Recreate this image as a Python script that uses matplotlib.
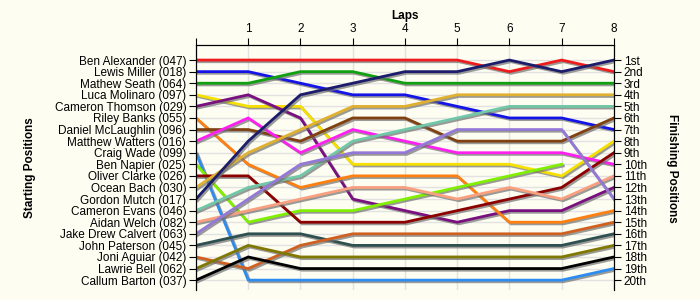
import numpy as np
import matplotlib.pyplot as plt
import matplotlib.patheffects as pe

laps = [0, 1, 2, 3, 4, 5, 6, 7, 8]

drivers = ["Ben Alexander (047)", "Lewis Miller (018)", "Mathew Seath (064)",
           "Luca Molinaro (097)", "Cameron Thomson (029)", "Riley Banks (055)",
           "Daniel McLaughlin (096)", "Matthew Watters (016)", "Craig Wade (099)",
           "Ben Napier (025)", "Oliver Clarke (026)", "Ocean Bach (030)",
           "Gordon Mutch (017)", "Cameron Evans (046)", "Aidan Welch (082)",
           "Jake Drew Calvert (063)", "John Paterson (045)", "Joni Aguiar (042)",
           "Lawrie Bell (062)", "Callum Barton (037)"]

colors = ["#ee1c1c", "#1414e6", "#10a010", "#f5e000", "#7a1080", "#ff8010",
          "#804010", "#ff20f0", "#2c8cf0", "#80f000", "#8c0000", "#e0b030",
          "#1c1c6c", "#70c8a8", "#f8a080", "#9478d8", "#2f5050", "#d06020",
          "#807800", "#000000"]

# positions at laps 0..8 (nan = retired)
positions = [
    [1, 1, 1, 1, 1, 1, 2, 1, 2],
    [2, 2, 3, 4, 4, 5, 6, 6, 7],
    [3, 3, 2, 2, 3, 3, 3, 3, 3],
    [4, 5, 5, 10, 10, 10, 10, 11, 8],
    [5, 4, 6, 13, 14, 15, 14, 14, 12],
    [6, 10, 12, 11, 11, 11, 15, 15, 14],
    [7, 7, 8, 6, 6, 8, 8, 8, 6],
    [8, 6, 9, 7, 8, 9, 9, 9, 10],
    [9, 20, 20, 20, 20, 20, 20, 20, 19],
    [10, 15, 14, 14, 13, 12, 11, 10, np.nan],
    [11, 11, 15, 15, 15, 14, 13, 12, 9],
    [12, 9, 7, 5, 5, 4, 4, 4, 4],
    [13, 8, 4, 3, 2, 2, 1, 2, 1],
    [14, 12, 11, 8, 7, 6, 5, 5, 5],
    [15, 14, 13, 12, 12, 13, 12, 13, 11],
    [16, 13, 10, 9, 9, 7, 7, 7, 13],
    [17, 16, 16, 17, 17, 17, 17, 17, 16],
    [18, 19, 17, 16, 16, 16, 16, 16, 15],
    [19, 17, 18, 18, 18, 18, 18, 18, 17],
    [20, 18, 19, 19, 19, 19, 19, 19, 18],
]

finish_labels = ["1st", "2nd", "3rd"] + [f"{i}th" for i in range(4, 21)]

plt.rcParams["font.family"] = ["Liberation Sans", "DejaVu Sans"]

bg = "#fdfdf2"
fig = plt.figure(figsize=(7, 3), dpi=100, facecolor=bg)
ax = fig.add_axes([0.28, 0.033, 0.597, 0.817], facecolor=bg)

shadow = [pe.SimpleLineShadow(offset=(1.2, -1.2), shadow_color="#707070", alpha=0.7),
          pe.Normal()]
for pos, c in zip(positions, colors):
    ax.plot(laps, pos, color=c, lw=2, path_effects=shadow, solid_joinstyle="miter")

ax.set_xlim(0, 8)
ax.set_ylim(20.86, -0.3)
ax.set_xticks(laps)
ax.set_xticklabels([""] + [str(l) for l in laps[1:]])
ax.xaxis.tick_top()
ax.set_yticks(range(1, 21))
ax.set_yticklabels(drivers)
ax.tick_params(axis="both", labelsize=8.5, length=5, color="black", pad=2)
ax.grid(color="#e2e2e2", lw=1)
ax.set_axisbelow(True)
ax.spines["bottom"].set_visible(False)

ax2 = ax.twinx()
ax2.set_ylim(ax.get_ylim())
ax2.set_yticks(range(1, 21))
ax2.set_yticklabels(finish_labels)
ax2.tick_params(axis="y", labelsize=8.5, length=5, pad=2)
ax2.spines["bottom"].set_visible(False)

fig.text(0.578, 0.945, "Laps", ha="center", va="center", fontsize=8.5, fontweight="bold")
fig.text(0.043, 0.44, "Starting Positions", ha="center", va="center", rotation=90,
         fontsize=8.5, fontweight="bold")
fig.text(0.96, 0.44, "Finishing Positions", ha="center", va="center", rotation=-90,
         fontsize=8.5, fontweight="bold")

fig.savefig("out.png", dpi=100, facecolor=bg)
